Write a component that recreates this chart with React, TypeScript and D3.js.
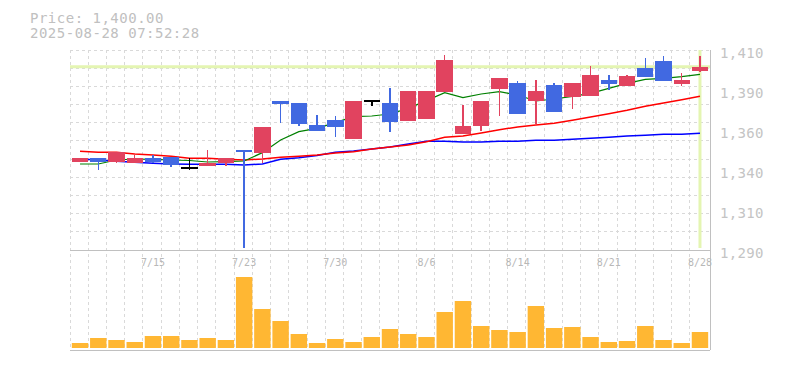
import React, { useEffect, useRef } from "react";
import * as d3 from "d3";

// trading days shown (7/21 holiday, 8/11 holiday)
const dates = [
  "7/9", "7/10", "7/11", "7/14", "7/15", "7/16", "7/17", "7/18", "7/22", "7/23",
  "7/24", "7/25", "7/28", "7/29", "7/30", "7/31", "8/1", "8/4", "8/5", "8/6",
  "8/7", "8/8", "8/12", "8/13", "8/14", "8/15", "8/18", "8/19", "8/20", "8/21",
  "8/22", "8/25", "8/26", "8/27", "8/28",
];
const dateLabels = ["7/15", "7/23", "7/30", "8/6", "8/14", "8/21", "8/28"];

const opens = [
  1343, 1345, 1343, 1342, 1345, 1346, 1340, 1340.6, 1342, 1350,
  1348, 1379.2, 1378, 1365, 1368, 1356.6, 1380, 1378.2, 1367.4, 1368.6,
  1384.8, 1359.6, 1364.4, 1386.6, 1390.2, 1379.4, 1389, 1381.8, 1382.4, 1392,
  1388.4, 1399.2, 1403.4, 1389.6, 1397.4,
];
const highs = [
  1345, 1345, 1349, 1347, 1347, 1346, 1345, 1350, 1345, 1350,
  1364, 1379.2, 1378, 1371, 1370.4, 1379.4, 1380, 1387.2, 1385.4, 1385.4,
  1407, 1377, 1379.4, 1393.2, 1391.4, 1392, 1390, 1390.2, 1400.4, 1395,
  1395, 1405.2, 1406.4, 1396.2, 1406.4,
];
const lows = [
  1343, 1338, 1342, 1342, 1342, 1340, 1338, 1340.6, 1340.6, 1291,
  1342, 1366, 1364.4, 1361.6, 1357.8, 1356.6, 1376.4, 1360.8, 1367.4, 1368.6,
  1384.8, 1359.6, 1361.4, 1370.4, 1371.6, 1365.6, 1372.8, 1374.6, 1382.4, 1386,
  1388.4, 1393.8, 1391.4, 1388.4, 1396.8,
];
const closes = [
  1345, 1343, 1349, 1345, 1343, 1341, 1340, 1342.2, 1345, 1349,
  1364, 1377.6, 1365.6, 1361.6, 1363.8, 1379.4, 1380, 1366.8, 1385.4, 1385.4,
  1404, 1364.4, 1379.4, 1393.2, 1371.6, 1385.4, 1372.8, 1390.2, 1395, 1389.8,
  1394.4, 1393.8, 1391.4, 1392, 1400,
];
const volumes = [
  5000, 10000, 8000, 6000, 12000, 12000, 8000, 10000, 8000, 71000,
  39000, 27000, 14000, 5000, 9000, 6000, 11000, 19000, 14000, 11000,
  36000, 47000, 22000, 18000, 16000, 42000, 20000, 21000, 11000, 6000,
  7000, 22000, 8000, 5000, 16000,
];

// moving averages
const maShort = [
  1341.6, 1341.6, 1344, 1344.6, 1344.4, 1344, 1343.7, 1342.8, 1343, 1343.4,
  1348.4, 1356, 1361, 1363, 1366.4, 1370, 1370.4, 1371.6, 1375, 1379.6,
  1384.4, 1381.4, 1383.6, 1385, 1383, 1379.4, 1380.6, 1382.2, 1384, 1387,
  1390, 1392.4, 1393, 1394, 1395.4,
];
const maMid = [
  1349.2, 1348.6, 1348.6, 1347.6, 1347, 1346.2, 1345, 1345, 1344.4, 1344,
  1344.6, 1345.6, 1346.2, 1347, 1348.2, 1349, 1350.6, 1351.8, 1353, 1355,
  1357.6, 1358.4, 1360.2, 1362.2, 1363.8, 1365, 1366, 1367.8, 1369.8, 1371.8,
  1373.8, 1376.2, 1378.2, 1380.2, 1382.2,
];
const maLong = [
  1344.6, 1344, 1343.2, 1342.6, 1342, 1341.6, 1341.4, 1341.4, 1341.4, 1341,
  1341.6, 1344.4, 1345.4, 1346.7, 1348.6, 1349.4, 1350.6, 1351.8, 1353.6, 1355.2,
  1355.2, 1354.8, 1354.8, 1355.2, 1355.2, 1355.8, 1355.8, 1356.4, 1357, 1357.6,
  1358.4, 1358.8, 1359.4, 1359.4, 1360,
];

const priceTicks = [1290, 1314, 1338, 1362, 1386, 1410];
const priceTickLabels = ["1,290", "1,310", "1,340", "1,360", "1,390", "1,410"];

const lastPrice = 1400;
const titleLines = ["Price: 1,400.00", "2025-08-28 07:52:28"];

const App = () => {
  const ref = useRef<SVGSVGElement>(null);

  useEffect(() => {
    const width = 785;
    const height = 370;
    const left = 70;
    const right = 710;
    const top = 50;
    const priceBottom = 250;
    const volBottom = 350;
    const mono = "'DejaVu Sans Mono', monospace";

    const svg = d3.select(ref.current);
    svg.selectAll("*").remove();
    svg.attr("width", width).attr("height", height);

    const x = d3.scaleBand<string>().domain(dates).range([left, right]).padding(0.1);
    const step = x.step();
    const pad = step * 0.1;
    const cx = (i: number) => (x(dates[i]) as number) + x.bandwidth() / 2;

    const y = d3.scaleLinear().domain([1290, 1410]).range([priceBottom, top]);
    const yv = d3.scaleLinear().domain([0, 75000]).range([348, 273]);

    // grid
    const grid = svg.append("g").attr("shape-rendering", "crispEdges");
    d3.range(11).forEach((k) => {
      const gy = top + (k * (priceBottom - top)) / 11;
      grid.append("line")
        .attr("x1", left).attr("x2", right).attr("y1", gy).attr("y2", gy)
        .attr("stroke", "#d9d9d9").attr("stroke-dasharray", "3,3");
    });
    dates.forEach((d) => {
      const gx = (x(d) as number) - pad;
      grid.append("line")
        .attr("x1", gx).attr("x2", gx).attr("y1", top).attr("y2", volBottom)
        .attr("stroke", "#d9d9d9").attr("stroke-dasharray", "3,3");
    });

    // frame
    const frame = svg.append("g").attr("stroke", "#c0c0c0").attr("shape-rendering", "crispEdges");
    frame.append("line").attr("x1", left).attr("x2", right).attr("y1", priceBottom).attr("y2", priceBottom);
    frame.append("line").attr("x1", left).attr("x2", right).attr("y1", volBottom).attr("y2", volBottom);
    frame.append("line").attr("x1", right).attr("x2", right).attr("y1", top).attr("y2", volBottom);

    // current price markers
    svg.append("line")
      .attr("x1", left).attr("x2", right)
      .attr("y1", y(lastPrice)).attr("y2", y(lastPrice))
      .attr("stroke", "#e4f5b2").attr("stroke-width", 3);
    svg.append("line")
      .attr("x1", cx(dates.length - 1)).attr("x2", cx(dates.length - 1))
      .attr("y1", top).attr("y2", priceBottom - 2)
      .attr("stroke", "#e4f5b2").attr("stroke-width", 3);

    // moving averages
    const line = (vals: number[]) =>
      d3.line<number>().x((_, i) => cx(i)).y((v) => y(v))(vals);
    [
      { vals: maLong, color: "#0000ff", w: 1.5 },
      { vals: maMid, color: "#ff0000", w: 1.5 },
      { vals: maShort, color: "#008000", w: 1.2 },
    ].forEach((s) => {
      svg.append("path")
        .attr("d", line(s.vals))
        .attr("fill", "none")
        .attr("stroke", s.color)
        .attr("stroke-width", s.w);
    });

    // candles
    const colorOf = (i: number) =>
      closes[i] > opens[i] ? "#e1435f" : closes[i] < opens[i] ? "#4169e1" : "#000000";
    const candles = svg.append("g").attr("shape-rendering", "crispEdges");
    dates.forEach((d, i) => {
      const c = colorOf(i);
      candles.append("line")
        .attr("x1", cx(i)).attr("x2", cx(i))
        .attr("y1", y(highs[i])).attr("y2", y(lows[i]))
        .attr("stroke", c).attr("stroke-width", 1.5);
      const y0 = y(Math.max(opens[i], closes[i]));
      const y1 = y(Math.min(opens[i], closes[i]));
      candles.append("rect")
        .attr("x", x(d) as number)
        .attr("y", y0)
        .attr("width", x.bandwidth())
        .attr("height", Math.max(2, y1 - y0))
        .attr("fill", c);
    });

    // volume
    svg.append("g")
      .selectAll("rect")
      .data(volumes)
      .enter()
      .append("rect")
      .attr("x", (_, i) => x(dates[i]) as number)
      .attr("y", (v) => yv(v))
      .attr("width", x.bandwidth())
      .attr("height", (v) => yv(0) - yv(v))
      .attr("fill", "#ffb733");

    // date labels
    dateLabels.forEach((lbl) => {
      svg.append("text")
        .attr("x", cx(dates.indexOf(lbl)))
        .attr("y", 266)
        .attr("text-anchor", "middle")
        .attr("font-family", mono)
        .attr("font-size", 10)
        .attr("fill", "#b8b8b8")
        .text(lbl);
    });

    // price labels
    priceTicks.forEach((v, i) => {
      svg.append("text")
        .attr("x", 720)
        .attr("y", y(v) + 8)
        .attr("font-family", mono)
        .attr("font-size", 14)
        .attr("letter-spacing", 0.3)
        .attr("fill", "#c4c4c4")
        .text(priceTickLabels[i]);
    });

    // header
    titleLines.forEach((t, i) => {
      svg.append("text")
        .attr("x", 30)
        .attr("y", 22.5 + i * 15.5)
        .attr("font-family", mono)
        .attr("font-size", 14)
        .attr("letter-spacing", 0.5)
        .attr("fill", "#c0c0c0")
        .text(t);
    });
  }, []);

  return <svg ref={ref} style={{ position: "absolute", left: 0, top: 0 }}></svg>;
};

export default App;
